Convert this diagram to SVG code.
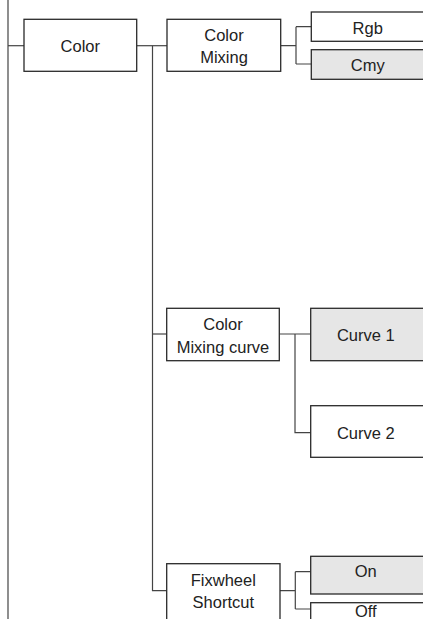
<svg xmlns="http://www.w3.org/2000/svg" width="423" height="619" viewBox="0 0 423 619">
<style>
.box{fill:#fff;stroke:#2a2a2a;stroke-width:1.3}
.sel{fill:#e6e6e6;stroke:#2a2a2a;stroke-width:1.3}
.ln{fill:none;stroke:#444;stroke-width:1.2}
text{font-family:"Liberation Sans",Arial,sans-serif;font-size:16.5px;fill:#222;text-anchor:middle}
</style>
<rect width="423" height="619" fill="#fff"/>
<g id="connectors">
<path class="ln" d="M8,0V619"/>
<path class="ln" d="M8,45.7H24"/>
<path class="ln" d="M136.7,45.7H167"/>
<path class="ln" d="M152.5,45.7V590.7H166.7"/>
<path class="ln" d="M152.5,334H166.7"/>
<path class="ln" d="M280.7,45.7H296M296,26.7V64M296,26.7H311.3M296,64H311.3"/>
<path class="ln" d="M279.3,334H310.7M295,334V432.7H310.7"/>
<path class="ln" d="M280,590.7H295.3M295.3,571.7V609M295.3,571.7H310.7M295.3,609H310.7"/>
</g>
<g id="color"><rect class="box" x="24" y="19.3" width="112.7" height="52"/><text x="80.3" y="51.5">Color</text></g>
<g id="color-mixing"><rect class="box" x="167" y="19.3" width="113.7" height="52"/><text x="224" y="40.5">Color</text><text x="224" y="63">Mixing</text></g>
<g id="rgb"><rect class="box" x="311.3" y="12" width="120" height="29.3"/><text x="367.7" y="33.5">Rgb</text></g>
<g id="cmy"><rect class="sel" x="311.3" y="49.7" width="120" height="29.6"/><text x="367.7" y="70.8">Cmy</text></g>
<g id="color-mixing-curve"><rect class="box" x="166.7" y="308.3" width="112.6" height="52.4"/><text x="223" y="330">Color</text><text x="223" y="352.5">Mixing curve</text></g>
<g id="curve1"><rect class="sel" x="310.7" y="308.3" width="120" height="52.4"/><text x="365.8" y="341.2">Curve 1</text></g>
<g id="curve2"><rect class="box" x="310.7" y="405.7" width="120" height="51.6"/><text x="365.8" y="438.5">Curve 2</text></g>
<g id="fixwheel"><rect class="box" x="166.7" y="563.7" width="113.3" height="70"/><text x="223.3" y="586">Fixwheel</text><text x="223.3" y="608.3">Shortcut</text></g>
<g id="on"><rect class="sel" x="310.7" y="556.3" width="120" height="37.7"/><text x="365.8" y="576.7">On</text></g>
<g id="off"><rect class="box" x="310.7" y="602.7" width="120" height="40"/><text x="365.8" y="617">Off</text></g>
</svg>
